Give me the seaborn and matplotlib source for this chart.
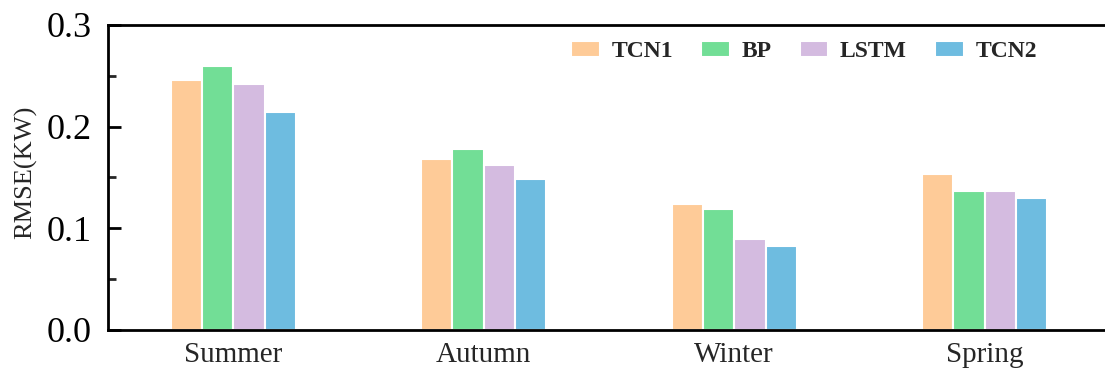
import matplotlib
matplotlib.use("Agg")
import matplotlib.pyplot as plt
from matplotlib.ticker import MultipleLocator, FormatStrFormatter
import seaborn as sns
import pandas as pd

# RMSE per season for each forecasting model
seasons = ["Summer", "Autumn", "Winter", "Spring"]
models = ["TCN1", "BP", "LSTM", "TCN2"]
tcn1 = [0.246, 0.168, 0.124, 0.153]
bp = [0.260, 0.178, 0.119, 0.137]
lstm = [0.242, 0.162, 0.090, 0.137]
tcn2 = [0.214, 0.149, 0.083, 0.130]
colors = ["#FECB98", "#72DE96", "#D4BBE0", "#6EBCE0"]

rows = []
for model, vals in zip(models, [tcn1, bp, lstm, tcn2]):
    for season, v in zip(seasons, vals):
        rows.append({"Season": season, "Model": model, "RMSE": v})
df = pd.DataFrame(rows)

sns.set_theme(style="ticks")
plt.rcParams["font.family"] = ["Liberation Serif", "DejaVu Serif"]

fig = plt.figure(figsize=(11.05, 3.69), dpi=100)
W, H = 1105, 369
ax = fig.add_axes([108 / W, 1 - 330 / H, (1110 - 108) / W, (330 - 25) / H])

sns.barplot(data=df, x="Season", y="RMSE", hue="Model", order=seasons,
            hue_order=models, palette=colors, width=0.5, gap=0,
            edgecolor="white", linewidth=1.5, saturation=1, ax=ax)

ax.set_xlim(-0.5, 3.5)
ax.set_ylim(0, 0.3)
ax.yaxis.set_major_locator(MultipleLocator(0.1))
ax.yaxis.set_minor_locator(MultipleLocator(0.05))
ax.yaxis.set_major_formatter(FormatStrFormatter("%.1f"))
ax.set_xlabel("")
ax.set_ylabel("RMSE(KW)", fontsize=19)
ax.yaxis.set_label_coords(-0.071, 0.518)

for s in ax.spines.values():
    s.set_linewidth(2)
    s.set_color("black")

ax.tick_params(axis="y", which="major", direction="in", length=9, width=2,
               labelsize=26, pad=11.5, colors="black")
ax.tick_params(axis="y", which="minor", direction="in", length=6, width=2)
ax.tick_params(axis="x", which="both", length=0, labelsize=21, pad=9)

handles, labels = ax.get_legend_handles_labels()
ax.legend(handles, labels, ncol=4, frameon=False, loc="center right",
          bbox_to_anchor=(0.927, 0.912), borderaxespad=0, borderpad=0,
          handlelength=1.2, handleheight=0.65, handletextpad=0.5,
          columnspacing=1.2, prop={"family": "Liberation Serif",
                                   "weight": "bold", "size": 17})

fig.savefig("out.png", dpi=100)
